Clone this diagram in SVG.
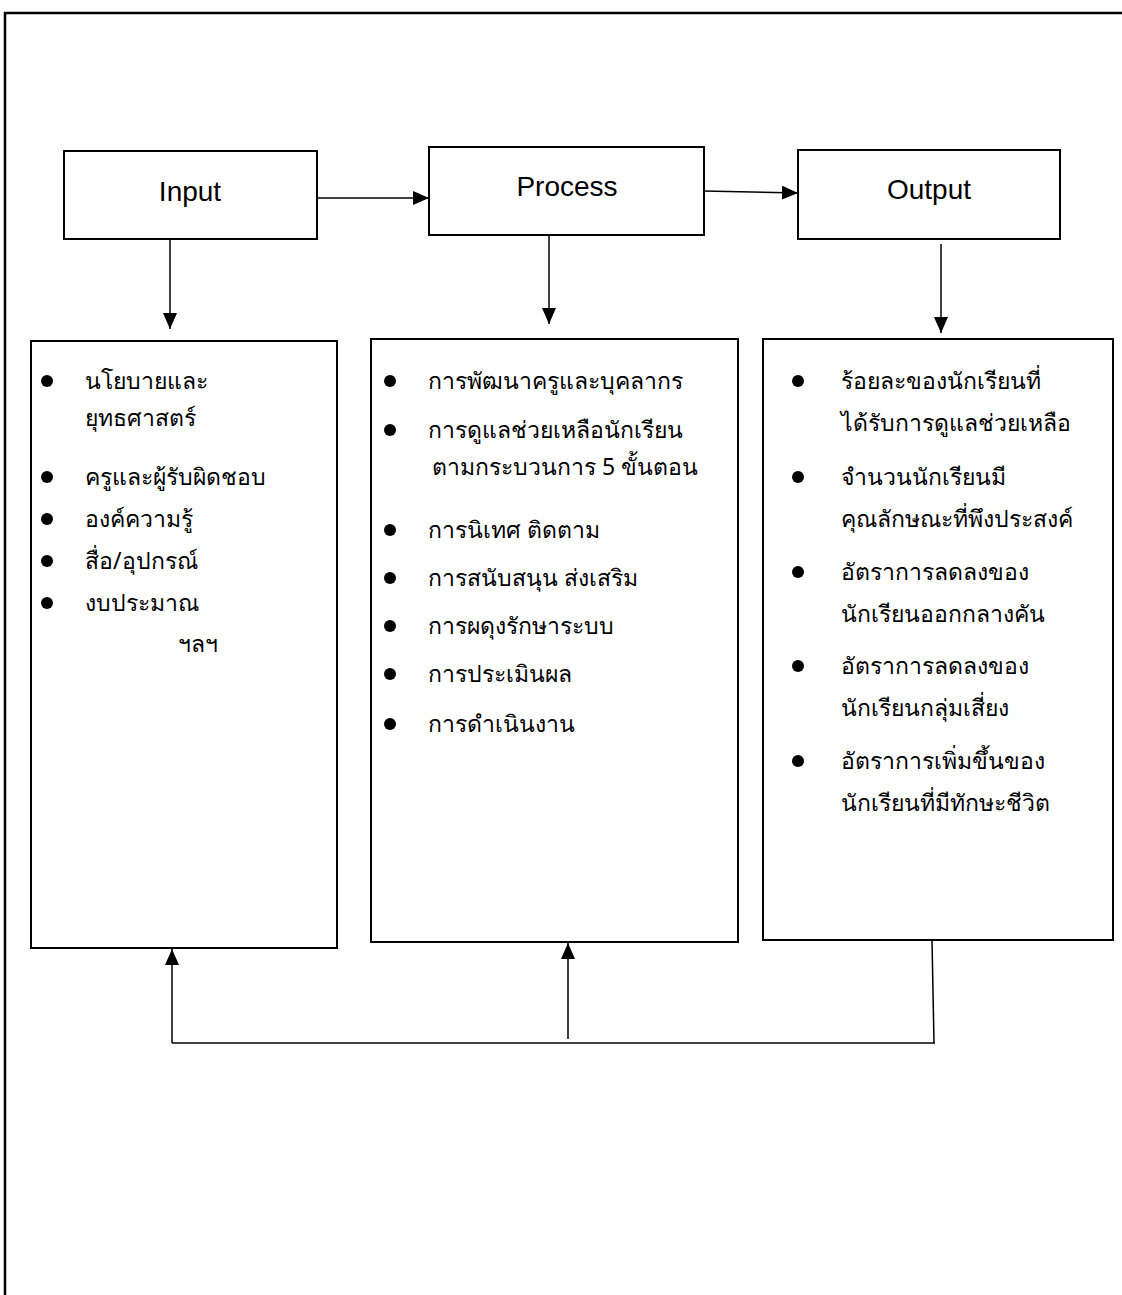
<svg xmlns="http://www.w3.org/2000/svg" width="1122" height="1295" viewBox="0 0 1122 1295">
<style>
.box{fill:#fff;stroke:#000;stroke-width:2}
.ln{fill:none;stroke:#000;stroke-width:1.5}
.hd{font-family:"Liberation Sans",Arial,sans-serif;font-size:28px;fill:#000;text-anchor:middle}
.th{font-family:"Noto Sans","DejaVu Sans",sans-serif;font-size:23px;fill:#000}
.bl{fill:#000}
</style>
<defs>
<marker id="ah" markerUnits="userSpaceOnUse" markerWidth="16" markerHeight="14" refX="16" refY="7" orient="auto">
<path d="M0,0 L16,7 L0,14 z" fill="#000"/>
</marker>
</defs>
<path d="M5,1295 V13 H1122" fill="none" stroke="#000" stroke-width="2.5"/>
<g id="connectors">
<path class="ln" d="M317,198 H429" marker-end="url(#ah)"/>
<path class="ln" d="M704,191 L798,193" marker-end="url(#ah)"/>
<path class="ln" d="M170,239 V329" marker-end="url(#ah)"/>
<path class="ln" d="M549,235 V324" marker-end="url(#ah)"/>
<path class="ln" d="M941,244 V333" marker-end="url(#ah)"/>
<path class="ln" d="M172,1043 H935"/>
<path class="ln" d="M172,1043 V949" marker-end="url(#ah)"/>
<path class="ln" d="M568,1039 V943" marker-end="url(#ah)"/>
<path class="ln" d="M932,940 L934,1043"/>
</g>
<g id="input">
<rect class="box" x="64" y="151" width="253" height="88"/>
<text class="hd" x="190" y="201">Input</text>
</g>
<g id="process">
<rect class="box" x="429" y="147" width="275" height="88"/>
<text class="hd" x="567" y="196">Process</text>
</g>
<g id="output">
<rect class="box" x="798" y="150" width="262" height="89"/>
<text class="hd" x="929" y="199">Output</text>
</g>
<g id="input-list">
<rect class="box" x="31" y="341" width="306" height="607"/>
<circle class="bl" cx="47" cy="381" r="6"/>
<circle class="bl" cx="47" cy="477" r="6"/>
<circle class="bl" cx="47" cy="519" r="6"/>
<circle class="bl" cx="47" cy="561" r="6"/>
<circle class="bl" cx="47" cy="603" r="6"/>
<text class="th" x="85" y="389">นโยบายและ</text>
<text class="th" x="85" y="426">ยุทธศาสตร์</text>
<text class="th" x="85" y="485">ครูและผู้รับผิดชอบ</text>
<text class="th" x="85" y="527">องค์ความรู้</text>
<text class="th" x="85" y="569">สื่อ/อุปกรณ์</text>
<text class="th" x="85" y="611">งบประมาณ</text>
<text class="th" x="178" y="652">ฯลฯ</text>
</g>
<g id="process-list">
<rect class="box" x="371" y="339" width="367" height="603"/>
<circle class="bl" cx="390" cy="381" r="6"/>
<circle class="bl" cx="390" cy="430" r="6"/>
<circle class="bl" cx="390" cy="530" r="6"/>
<circle class="bl" cx="390" cy="578" r="6"/>
<circle class="bl" cx="390" cy="626" r="6"/>
<circle class="bl" cx="390" cy="674" r="6"/>
<circle class="bl" cx="390" cy="724" r="6"/>
<text class="th" x="428" y="389">การพัฒนาครูและบุคลากร</text>
<text class="th" x="428" y="438">การดูแลช่วยเหลือนักเรียน</text>
<text class="th" x="432" y="475">ตามกระบวนการ 5 ขั้นตอน</text>
<text class="th" x="428" y="538">การนิเทศ ติดตาม</text>
<text class="th" x="428" y="586">การสนับสนุน ส่งเสริม</text>
<text class="th" x="428" y="634">การผดุงรักษาระบบ</text>
<text class="th" x="428" y="682">การประเมินผล</text>
<text class="th" x="428" y="732">การดำเนินงาน</text>
</g>
<g id="output-list">
<rect class="box" x="763" y="339" width="350" height="601"/>
<circle class="bl" cx="798" cy="381" r="6"/>
<circle class="bl" cx="798" cy="477" r="6"/>
<circle class="bl" cx="798" cy="572" r="6"/>
<circle class="bl" cx="798" cy="666" r="6"/>
<circle class="bl" cx="798" cy="761" r="6"/>
<text class="th" x="841" y="389">ร้อยละของนักเรียนที่</text>
<text class="th" x="841" y="431">ได้รับการดูแลช่วยเหลือ</text>
<text class="th" x="841" y="485">จำนวนนักเรียนมี</text>
<text class="th" x="841" y="527">คุณลักษณะที่พึงประสงค์</text>
<text class="th" x="841" y="580">อัตราการลดลงของ</text>
<text class="th" x="841" y="622">นักเรียนออกกลางคัน</text>
<text class="th" x="841" y="674">อัตราการลดลงของ</text>
<text class="th" x="841" y="716">นักเรียนกลุ่มเสี่ยง</text>
<text class="th" x="841" y="769">อัตราการเพิ่มขึ้นของ</text>
<text class="th" x="841" y="811">นักเรียนที่มีทักษะชีวิต</text>
</g>
</svg>
